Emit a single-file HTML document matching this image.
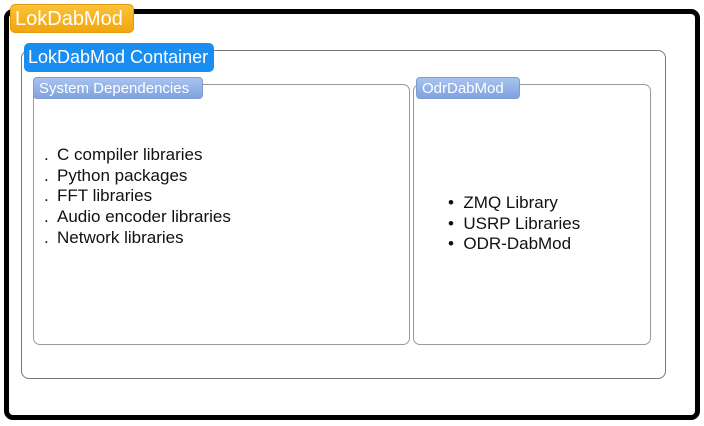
<!DOCTYPE html>
<html><head><meta charset="utf-8"><style>
body{margin:0;width:704px;height:426px;background:#fff;position:relative;overflow:hidden;font-family:"Liberation Sans",Arial,sans-serif}
div{position:absolute;box-sizing:border-box}
.tab{color:#fff;white-space:nowrap}
.t{font-size:17px;color:#111;line-height:20.7px;white-space:nowrap}
</style></head><body>
<div style="left:4px;top:9px;width:696px;height:411px;border:5px solid #000;border-radius:9px"></div>
<div class="tab" style="left:10px;top:4px;width:124px;height:29px;background:linear-gradient(#fcc23a,#f2a60a);border:1px solid #e09a10;border-radius:5px;font-size:20px;line-height:28px;padding-left:4px">LokDabMod</div>
<div style="left:21px;top:50px;width:645px;height:329px;border:1.5px solid #777;border-radius:8px"></div>
<div class="tab" style="left:24px;top:43px;width:190px;height:29px;background:#1a8ef0;border-radius:5px;font-size:18px;line-height:28px;padding-left:4px">LokDabMod Container</div>
<div style="left:33px;top:84px;width:377px;height:261px;border:1.5px solid #999;border-radius:7px"></div>
<div class="tab" style="left:33px;top:77px;width:170px;height:22px;background:linear-gradient(#a9c3ef,#7fa2e0);border:1px solid #7f9bd0;border-radius:4px;font-size:15px;line-height:21px;padding-left:5px">System Dependencies</div>
<div style="left:413px;top:84px;width:238px;height:261px;border:1.5px solid #999;border-radius:7px"></div>
<div class="tab" style="left:416px;top:77px;width:104px;height:22px;background:linear-gradient(#a9c3ef,#7fa2e0);border:1px solid #7f9bd0;border-radius:4px;font-size:15px;line-height:21px;padding-left:5px">OdrDabMod</div>
<div class="t" style="left:44px;top:145px">.<br>.<br>.<br>.<br>.</div>
<div class="t" style="left:57px;top:145px">C compiler libraries<br>Python packages<br>FFT libraries<br>Audio encoder libraries<br>Network libraries</div>
<div class="t" style="left:448px;top:193px">•&nbsp; ZMQ Library<br>•&nbsp; USRP Libraries<br>•&nbsp; ODR-DabMod</div>
</body></html>
